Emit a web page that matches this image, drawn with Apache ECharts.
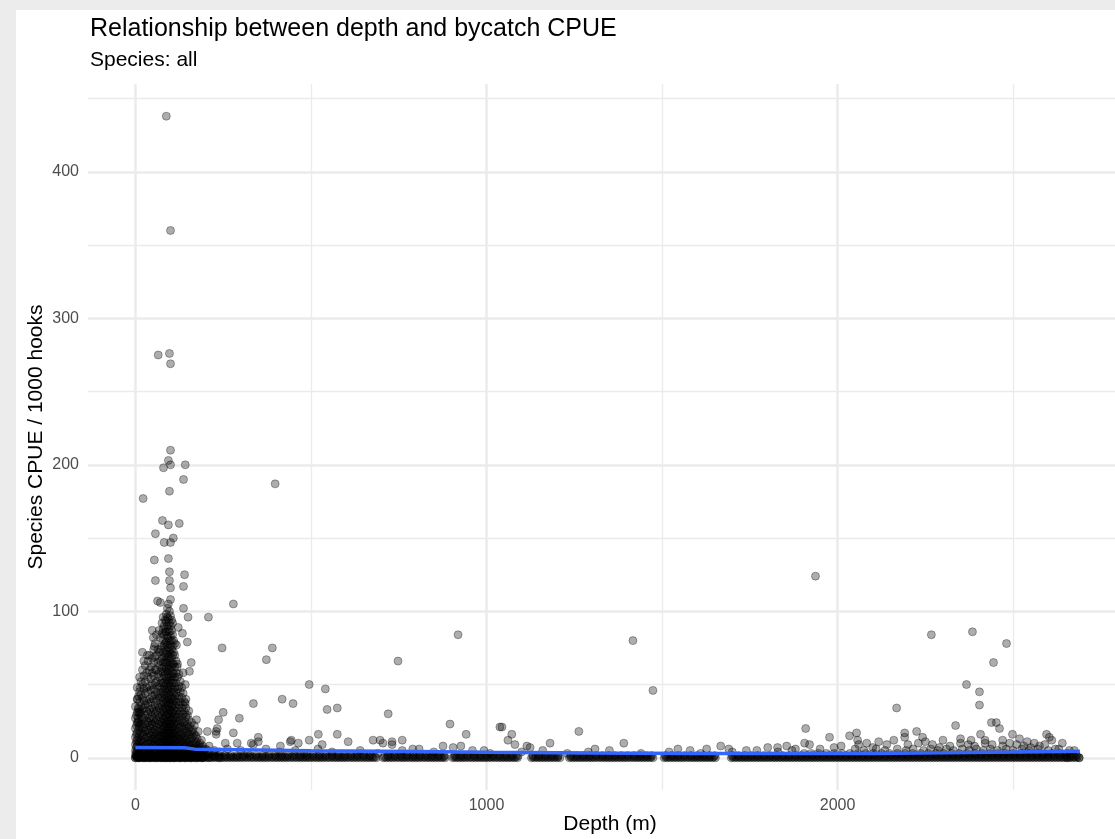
<!DOCTYPE html>
<html>
<head>
<meta charset="utf-8">
<title>Relationship between depth and bycatch CPUE</title>
<script src="https://cdn.jsdelivr.net/npm/echarts@6/dist/echarts.min.js"></script>
<style>
  html, body { margin: 0; padding: 0; background: #ececec; }
  #chart { width: 1115px; height: 839px; }
</style>
</head>
<body>
<div id="chart"></div>
<script>
// axis ticks / grid
var xTicks = [0, 1000, 2000];
var xMinor = [500, 1500, 2500];
var yTicks = [0, 100, 200, 300, 400];
var yMinor = [50, 150, 250, 350, 450];

// dense cluster near the surface: one depth per column, cpue values for that column
var clusterDepth = [0, 5, 12, 20, 28, 36, 44, 52, 60, 68, 76, 82, 88, 94, 100, 106, 112, 120, 128, 136, 144, 152, 160, 168, 176, 184, 192, 200];
var clusterCpue = [
    [0, 2, 5, 9, 14, 20, 27, 35],
    [1, 4, 8, 12, 17, 24, 31, 40, 48],
    [0, 3, 7, 11, 16, 22, 30, 38, 45, 55],
    [2, 6, 10, 15, 20, 26, 33, 41, 50, 60],
    [0, 4, 8, 13, 18, 23, 29, 36, 44, 52, 63],
    [2, 6, 10, 14, 19, 24, 30, 37, 45, 55, 66],
    [0, 3, 7, 11, 15, 20, 25, 31, 38, 46, 54, 62],
    [2, 5, 9, 13, 17, 22, 27, 33, 40, 47, 56, 65, 74],
    [0, 4, 8, 12, 16, 21, 26, 32, 39, 45, 52, 60, 70],
    [2, 6, 10, 14, 18, 23, 28, 34, 41, 48, 55, 63, 72],
    [0, 3, 7, 11, 15, 19, 24, 29, 35, 41, 47, 54, 61, 68, 76, 85, 92],
    [2, 5, 9, 13, 17, 21, 26, 31, 37, 43, 49, 56, 62, 69, 77, 84, 90],
    [0, 4, 7, 11, 15, 19, 23, 28, 33, 38, 44, 50, 55, 61, 67, 73, 79, 86, 93, 98],
    [2, 6, 9, 13, 17, 21, 25, 30, 35, 40, 46, 51, 57, 63, 69, 75, 82, 88, 95, 105],
    [0, 3, 7, 11, 15, 19, 23, 27, 32, 37, 42, 48, 53, 59, 65, 71, 77, 83, 90, 97, 108],
    [2, 5, 9, 13, 17, 21, 26, 31, 36, 41, 47, 53, 58, 64, 70, 76, 84, 92],
    [0, 4, 8, 12, 16, 20, 25, 30, 36, 42, 48, 55, 62, 70, 78],
    [2, 6, 10, 14, 18, 23, 28, 34, 40, 47, 55, 64],
    [0, 4, 8, 12, 16, 21, 26, 32, 38, 45, 52],
    [2, 6, 10, 14, 19, 24, 30, 36, 44, 58],
    [0, 4, 8, 12, 17, 22, 28, 34, 40],
    [2, 6, 10, 15, 20, 26, 32],
    [0, 4, 8, 13, 18, 24],
    [2, 6, 10, 16, 22],
    [0, 4, 8, 13],
    [2, 6, 10],
    [0, 4, 8],
    [2, 6]
];
// second, interleaved set of cluster columns
var clusterDepth2 = [3, 9, 16, 24, 32, 40, 48, 56, 64, 72, 79, 85, 91, 97, 103, 109, 116, 124, 132, 140, 148, 156, 164, 172, 180, 188, 196, 210, 225, 240];
var clusterCpue2 = [
    [1, 4, 7, 11, 16, 22, 29],
    [0, 3, 6, 10, 14, 19, 25, 33, 42],
    [1, 4, 8, 12, 17, 23, 28, 35, 43, 52],
    [0, 3, 7, 11, 16, 21, 27, 34, 39, 47, 56, 66],
    [1, 5, 9, 14, 19, 25, 32, 39, 48, 58],
    [0, 3, 7, 12, 17, 22, 27, 33, 40, 49, 60, 70],
    [1, 5, 9, 13, 18, 23, 28, 34, 42, 50, 58, 68],
    [0, 3, 7, 11, 15, 19, 24, 30, 36, 43, 51, 60, 69, 78],
    [1, 5, 9, 13, 18, 23, 29, 35, 42, 49, 57, 65, 74],
    [0, 3, 7, 11, 15, 20, 25, 31, 37, 44, 51, 59, 66, 74, 82],
    [1, 5, 9, 13, 17, 22, 27, 33, 39, 45, 51, 58, 65, 72, 80, 88, 96],
    [0, 3, 7, 11, 15, 19, 24, 29, 34, 40, 46, 52, 59, 65, 71, 78, 86, 94],
    [1, 5, 9, 13, 17, 21, 25, 30, 36, 41, 47, 53, 59, 65, 71, 77, 83, 90, 96, 102],
    [0, 3, 7, 11, 15, 19, 23, 28, 33, 38, 43, 49, 55, 61, 67, 73, 80, 86, 92, 100],
    [1, 5, 9, 13, 17, 21, 25, 30, 35, 40, 45, 51, 56, 62, 68, 74, 80, 87, 94],
    [0, 3, 7, 11, 15, 19, 23, 28, 33, 39, 45, 51, 57, 64, 72, 80],
    [1, 5, 9, 13, 17, 22, 27, 32, 38, 44, 51, 58, 66],
    [0, 3, 7, 11, 15, 20, 25, 30, 36, 42, 49, 57],
    [1, 5, 9, 13, 17, 22, 28, 34, 41, 48],
    [0, 3, 7, 11, 15, 20, 25, 31, 38],
    [1, 5, 9, 13, 18, 23, 29],
    [0, 3, 7, 11, 16, 21],
    [1, 5, 9, 14, 19],
    [0, 3, 7, 11, 15],
    [1, 5, 9],
    [0, 3, 7, 12],
    [1, 5],
    [0, 3, 8],
    [1, 5],
    [0, 4]
];

// scattered hauls [depth, cpue]
var scatterPts = [
    [88, 438], [100, 360], [65, 275], [97, 276], [100, 269],
    [100, 210], [94, 203], [80, 198], [100, 200], [142, 200], [137, 190], [97, 182], [22, 177], [398, 187],
    [77, 162], [94, 159], [125, 160], [57, 153], [82, 147], [100, 147], [108, 150], [54, 135], [94, 136],
    [57, 121], [97, 127], [97, 121], [100, 116], [140, 125], [137, 117],
    [63, 107], [71, 106], [137, 102], [150, 96], [208, 96], [279, 105],
    [48, 87], [51, 82], [60, 84], [68, 87], [122, 89], [134, 85], [148, 79], [117, 77], [54, 76], [20, 72], [34, 70],
    [247, 75], [390, 75], [373, 67],
    [159, 65], [154, 59], [119, 62], [142, 50], [6, 40], [14, 48], [9, 31], [14, 31], [11, 21], [8, 34], [8, 27], [8, 24],
    [142, 37], [174, 26], [179, 18], [205, 18], [230, 18], [250, 31], [237, 26], [233, 20], [230, 16],
    [336, 37], [418, 40], [449, 37], [296, 27], [279, 17], [350, 14], [350, 11], [336, 9], [256, 10], [290, 10], [330, 10], [441, 11],
    [444, 12], [464, 10], [495, 12], [521, 16], [532, 9], [413, 8], [575, 16], [606, 11],
    [495, 50], [541, 47], [546, 33], [575, 34],
    [677, 12], [697, 12], [705, 10], [731, 11], [731, 9], [760, 12], [808, 6], [876, 8], [905, 7], [927, 8], [993, 5],
    [748, 66], [720, 30], [919, 84], [896, 23], [942, 16], [1038, 21], [1044, 21],
    [1072, 16], [1061, 12], [1081, 9], [1124, 7], [1115, 8], [1181, 10], [1263, 18], [1309, 6], [1391, 10], [1417, 80], [1474, 46],
    [1545, 6], [1627, 6], [1667, 8], [1690, 6], [1770, 5], [1801, 7], [1829, 7], [1855, 8], [1880, 6],
    [1906, 10], [1909, 20], [1920, 9], [1937, 124], [1950, 6], [1977, 14], [1990, 7],
    [2010, 8], [2034, 15], [2054, 17], [2057, 12], [2060, 9], [2083, 10], [2100, 7], [2117, 11], [2140, 9], [2160, 12],
    [2168, 34], [2191, 17], [2191, 14], [2200, 9], [2225, 18], [2230, 10], [2242, 14], [2250, 11], [2267, 84], [2270, 9],
    [2290, 7], [2300, 12], [2320, 8], [2336, 22], [2350, 13], [2350, 10], [2367, 50], [2372, 9], [2380, 12], [2384, 86],
    [2390, 8], [2404, 45], [2404, 36], [2407, 16], [2420, 10], [2420, 12], [2438, 24], [2444, 65], [2440, 9], [2452, 24],
    [2461, 20], [2470, 8], [2470, 12], [2481, 78], [2490, 10], [2498, 16], [2510, 9], [2518, 13], [2530, 8], [2540, 11],
    [2550, 7], [2560, 10], [2575, 8], [2590, 9], [2595, 16], [2603, 14], [2610, 12], [2620, 6], [2640, 10], [2674, 5],
    [2688, 0], [2654, 0],
    [205, 5], [225, 4], [262, 6], [300, 5], [320, 3], [372, 6], [410, 4], [455, 5], [480, 3], [520, 6], [560, 4],
    [640, 5], [690, 3], [760, 5], [790, 6], [850, 4], [960, 5], [1010, 3], [1100, 4], [1160, 5], [1230, 3], [1290, 4],
    [1350, 5], [1440, 3], [1520, 4], [1580, 5], [1610, 3], [1700, 4], [1740, 5], [1830, 4], [1870, 5]
];

// low catches, right-hand band (cpue about 5-6)
var rightLowDepth = [2050, 2075, 2110, 2135, 2170, 2195, 2215, 2245, 2265, 2285, 2310, 2330, 2355, 2375, 2395, 2415, 2435, 2455, 2480, 2500, 2525, 2545, 2570, 2600, 2630, 2660];
var rightLowCpue = [6, 5, 6, 5, 6, 5, 6, 5, 6, 5, 6, 5, 6, 5, 6, 5, 6, 5, 6, 5, 6, 5, 6, 5, 6, 5];

// near-zero catches along the whole depth range (cpue 0)
var zeroDepth = [0, 6, 13, 20, 27, 34, 41, 48, 55, 62, 69, 76, 83, 90, 97, 104, 111, 118, 125, 132, 139, 146, 153, 160, 168, 176, 184, 192, 200,
    209, 218, 227, 236, 245, 254, 263, 272, 281, 290, 299, 308, 318, 328, 338, 348, 357, 366, 375, 385, 395, 404, 413, 422, 431,
    441, 451, 461, 470, 479, 488, 497, 507, 517, 526, 535, 545, 555, 565, 574, 583, 592, 601, 611, 621, 630, 640, 650, 659, 668,
    677, 686, 706, 715, 724, 733, 743, 753, 762, 771, 781, 790, 799, 808, 818, 828, 837, 846, 855, 864, 873, 882, 904, 913, 922,
    931, 940, 950, 960, 969, 978, 987, 996, 1005, 1014, 1024, 1034, 1043, 1052, 1061, 1070, 1079, 1088, 1128, 1137, 1146, 1155,
    1164, 1173, 1182, 1191, 1200, 1209, 1236, 1245, 1254, 1263, 1272, 1281, 1290, 1299, 1308, 1318, 1328, 1337, 1346, 1355, 1364,
    1373, 1382, 1391, 1400, 1410, 1420, 1429, 1438, 1447, 1456, 1465, 1474, 1506, 1515, 1524, 1533, 1542, 1551, 1560, 1570, 1580,
    1589, 1598, 1607, 1616, 1625, 1634, 1643, 1652, 1697, 1706, 1715, 1724, 1733, 1742, 1751, 1760, 1769, 1778, 1787, 1796, 1805,
    1814, 1823, 1832, 1841, 1850, 1859, 1868, 1877, 1886, 1895, 1904, 1913, 1922, 1931, 1940, 1949, 1958, 1967, 1976, 1985, 1994,
    2003, 2012, 2021, 2030, 2039, 2048, 2057, 2066, 2075, 2084, 2093, 2102, 2111, 2120, 2129, 2138, 2147, 2156, 2165, 2174, 2183,
    2192, 2201, 2210, 2219, 2228, 2237, 2246, 2255, 2264, 2273, 2282, 2291, 2300, 2309, 2318, 2327, 2336, 2345, 2354, 2363, 2372,
    2381, 2390, 2399, 2408, 2417, 2426, 2435, 2444, 2453, 2462, 2471, 2480, 2489, 2498, 2507, 2516, 2525, 2534, 2543, 2552, 2561,
    2570, 2579, 2588, 2597, 2606, 2615, 2624, 2633, 2642, 2651, 2660, 2669, 2678, 2688];
// near-zero catches (cpue 0.5)
var halfDepth = [4, 10, 17, 24, 31, 38, 45, 52, 59, 66, 73, 80, 87, 94, 101, 108, 115, 122, 129, 136, 143, 150, 157, 164, 172, 180,
    188, 196, 205, 214, 223, 232, 241, 250, 259, 268, 277, 286, 295, 304, 313, 323, 333, 343, 352, 361, 370, 380, 390, 400, 409,
    418, 427, 436, 446, 456, 466, 475, 484, 493, 502, 512, 522, 531, 540, 550, 560, 570, 579, 588, 597, 606, 616, 626, 635, 645,
    655, 664, 673, 682, 710, 719, 728, 738, 748, 758, 767, 776, 786, 795, 804, 813, 823, 833, 842, 851, 860, 869, 878, 908, 917,
    926, 935, 945, 955, 965, 974, 983, 992, 1001, 1010, 1019, 1029, 1039, 1048, 1057, 1066, 1075, 1084, 1132, 1141, 1150, 1159,
    1168, 1177, 1186, 1195, 1204, 1240, 1249, 1258, 1267, 1276, 1285, 1294, 1303, 1313, 1323, 1332, 1341, 1350, 1359, 1368, 1377,
    1386, 1395, 1405, 1415, 1424, 1433, 1442, 1451, 1460, 1469, 1510, 1519, 1528, 1537, 1546, 1555, 1565, 1575, 1584, 1593, 1602,
    1611, 1620, 1629, 1638, 1647, 1701, 1710, 1719, 1728, 1737, 1746, 1755, 1764, 1773, 1782, 1791, 1800, 1809, 1818, 1827, 1836,
    1845, 1854, 1863, 1872, 1881, 1890, 1899, 1908, 1917, 1926, 1935, 1944, 1953, 1962, 1971, 1980, 1989, 1998, 2007, 2016, 2025,
    2034, 2043, 2052, 2061, 2070, 2079, 2088, 2097, 2106, 2115, 2124, 2133, 2142, 2151, 2160, 2169, 2178, 2187, 2196, 2205, 2214,
    2223, 2232, 2241, 2250, 2259, 2268, 2277, 2286, 2295, 2304, 2313, 2322, 2331, 2340, 2349, 2358, 2367, 2376, 2385, 2394, 2403,
    2412, 2421, 2430, 2439, 2448, 2457, 2466, 2475, 2484, 2493, 2502, 2511, 2520, 2529, 2538, 2547, 2556, 2565, 2574, 2583, 2592,
    2601, 2610, 2619, 2628, 2637, 2646, 2655, 2664, 2673, 2683];
// cpue 1.5
var oneDepth = [3, 17, 31, 45, 59, 73, 87, 101, 115, 129, 143, 158, 173, 188, 204, 221, 238, 255, 272, 290, 308, 326, 344, 362,
    380, 398, 416, 434, 452, 470, 488, 506, 524, 542, 560, 578, 596, 614, 632, 650, 668, 720, 738, 756, 774, 792, 810, 828, 846,
    864, 880, 910, 928, 946, 964, 982, 1000, 1018, 1036, 1054, 1072, 1090, 1132, 1150, 1168, 1186, 1204, 1240, 1258, 1276, 1294,
    1312, 1330, 1348, 1366, 1384, 1402, 1420, 1438, 1456, 1470, 1510, 1528, 1546, 1564, 1582, 1600, 1618, 1636, 1650, 1700, 1718,
    1736, 1754, 1772, 1790, 1808, 1826, 1844, 1862, 1880, 1896, 1912, 1928, 1944, 1960, 1976, 1992, 2008, 2024, 2040, 2056, 2072,
    2088, 2104, 2120, 2136, 2152, 2168, 2184, 2200, 2216, 2232, 2248, 2264, 2280, 2296, 2312, 2328, 2344, 2360, 2376, 2392, 2408,
    2424, 2440, 2456, 2472, 2488, 2504, 2520, 2536, 2552, 2568, 2584, 2600, 2616, 2632, 2648, 2664, 2680];
// cpue 3
var threeDepth = [1905, 1925, 1945, 1968, 1990, 2012, 2035, 2058, 2080, 2102, 2125, 2148, 2170, 2192, 2214, 2236, 2258, 2280,
    2302, 2324, 2346, 2368, 2390, 2412, 2434, 2456, 2478, 2500, 2522, 2544, 2566, 2588, 2610, 2632, 2654];

// smoother
var smoothDepth = [0, 140, 170, 300, 500, 800, 1000, 1300, 1600, 1900, 2100, 2300, 2500, 2690];
var smoothCpue = [7.0, 6.9, 5.9, 5.5, 4.8, 4.2, 3.8, 3.3, 3.0, 2.9, 3.0, 3.4, 3.9, 4.5];

var pts = [];
clusterDepth.forEach(function (d, i) {
    clusterCpue[i].forEach(function (v) { pts.push([d, v]); });
});
clusterDepth2.forEach(function (d, i) {
    clusterCpue2[i].forEach(function (v) { pts.push([d, v]); });
});
scatterPts.forEach(function (p) { pts.push(p); });
rightLowDepth.forEach(function (d, i) { pts.push([d, rightLowCpue[i]]); });
zeroDepth.forEach(function (d) { pts.push([d, 0]); });
halfDepth.forEach(function (d) { pts.push([d, 0.5]); });
oneDepth.forEach(function (d) { pts.push([d, 1.5]); });
threeDepth.forEach(function (d) { pts.push([d, 3]); });

var smooth = smoothDepth.map(function (d, i) { return [d, smoothCpue[i]]; });

var gridLines = [];
xTicks.forEach(function (v) { gridLines.push({ xAxis: v, lineStyle: { width: 2.5 } }); });
xMinor.forEach(function (v) { gridLines.push({ xAxis: v, lineStyle: { width: 1.3 } }); });
yTicks.forEach(function (v) { gridLines.push({ yAxis: v, lineStyle: { width: 2.5 } }); });
yMinor.forEach(function (v) { gridLines.push({ yAxis: v, lineStyle: { width: 1.3 } }); });

var font = 'Liberation Sans, Arial, Helvetica, sans-serif';
var chart = echarts.init(document.getElementById('chart'), null, { renderer: 'canvas' });

chart.setOption({
    animation: false,
    backgroundColor: '#ececec',
    textStyle: { fontFamily: font },
    graphic: [{
        type: 'rect', left: 16, top: 10, z: -100,
        shape: { width: 1099, height: 829 },
        style: { fill: '#ffffff' }
    }],
    title: {
        text: 'Relationship between depth and bycatch CPUE',
        subtext: 'Species: all',
        left: 90, top: 17, itemGap: 8, padding: 0,
        textStyle: { fontSize: 25, fontWeight: 'normal', color: '#000', fontFamily: font },
        subtextStyle: { fontSize: 21, color: '#000', fontFamily: font }
    },
    grid: { left: 88, right: 0, top: 84, bottom: 49, containLabel: false, outerBoundsMode: 'none' },
    xAxis: {
        type: 'value', min: -135, max: 2790,
        name: 'Depth (m)', nameLocation: 'middle', nameGap: 24, nameMoveOverlap: false,
        nameTextStyle: { fontSize: 21, color: '#000', fontFamily: font, padding: [0, 0, 0, 17] },
        axisLine: { show: false }, axisTick: { show: false }, splitLine: { show: false },
        axisLabel: {
            customValues: xTicks, fontSize: 16, color: '#4d4d4d', margin: 8, fontFamily: font,
            formatter: function (v) { return String(v); }
        }
    },
    yAxis: {
        type: 'value', min: -22, max: 460,
        name: 'Species CPUE / 1000 hooks', nameLocation: 'middle', nameGap: 41, nameRotate: 90,
        nameMoveOverlap: false,
        nameTextStyle: { fontSize: 21, color: '#000', fontFamily: font },
        axisLine: { show: false }, axisTick: { show: false }, splitLine: { show: false },
        axisLabel: {
            customValues: yTicks, fontSize: 16, color: '#4d4d4d', margin: 9, fontFamily: font,
            formatter: function (v) { return String(v); }
        }
    },
    series: [{
        type: 'scatter',
        data: pts,
        symbolSize: 8,
        silent: true,
        itemStyle: { color: 'rgba(0,0,0,0.4)', borderColor: 'rgba(0,0,0,0.4)', borderWidth: 1 },
        markLine: {
            silent: true, symbol: 'none', z: 1, animation: false,
            label: { show: false },
            lineStyle: { color: '#ebebeb', type: 'solid' },
            emphasis: { disabled: true },
            data: gridLines
        }
    }, {
        type: 'line',
        data: smooth,
        showSymbol: false,
        silent: true,
        z: 5,
        lineStyle: { color: '#3366ff', width: 3.5 }
    }]
});
</script>
</body>
</html>
